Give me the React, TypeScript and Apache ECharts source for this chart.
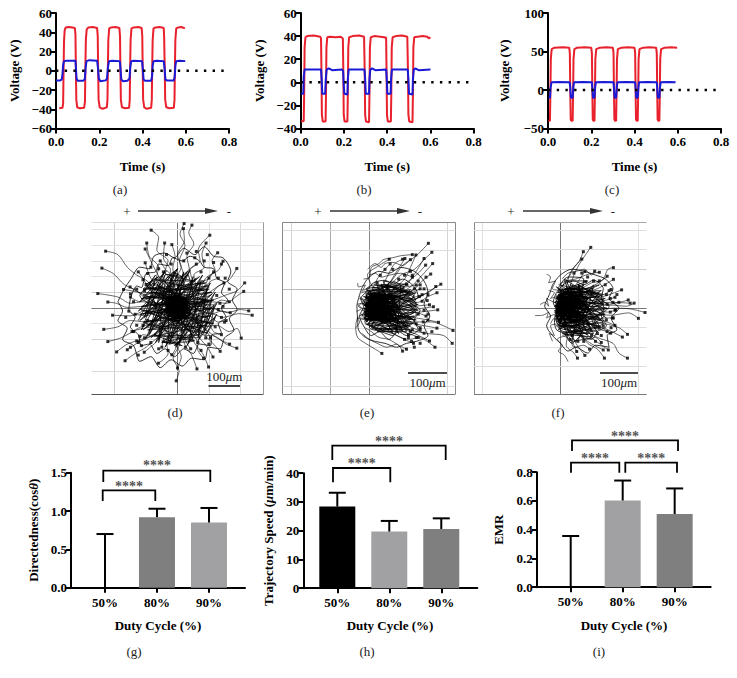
import React, { useEffect, useRef } from "react";
import * as echarts from "echarts";

const FONT = "'Liberation Serif', serif";
const minus = (s: string) => s.replace("-", "\u2212");

// ---------- voltage traces (t in s, V) ----------
const redA = [[0.015,-39],[0.03,-38.5],[0.033,-34],[0.035,0],[0.037,30],[0.04,42],[0.045,45],[0.06,45.5],[0.075,45],[0.087,44.5],[0.09,38],[0.092,0],[0.094,-30],[0.098,-38],[0.11,-39],[0.13,-38.5],[0.134,-32],[0.136,5],[0.138,32],[0.142,43],[0.15,45],[0.17,45.5],[0.19,44.5],[0.193,36],[0.195,0],[0.197,-30],[0.202,-38],[0.215,-39.5],[0.235,-38],[0.238,-30],[0.24,5],[0.242,32],[0.246,44],[0.255,45],[0.275,45.5],[0.293,44.5],[0.296,36],[0.298,0],[0.3,-30],[0.305,-38],[0.32,-39],[0.338,-38.5],[0.341,-30],[0.343,5],[0.345,32],[0.349,44],[0.36,45],[0.38,45.5],[0.396,44.5],[0.399,36],[0.401,0],[0.403,-30],[0.408,-38],[0.42,-39.5],[0.44,-38.5],[0.443,-30],[0.445,5],[0.447,32],[0.451,44],[0.46,45],[0.48,45.5],[0.498,44.5],[0.5,36],[0.503,0],[0.505,-30],[0.51,-38],[0.525,-39],[0.545,-38.5],[0.548,-30],[0.55,5],[0.552,32],[0.556,44],[0.565,45],[0.58,45.5],[0.596,44]];
const blueA = [[0,-10],[0.02,-10],[0.027,-9],[0.03,-3],[0.033,6],[0.037,10],[0.05,10.5],[0.09,10.5],[0.092,4],[0.095,-8],[0.1,-10.5],[0.125,-10.5],[0.133,-9],[0.137,3],[0.141,10],[0.155,11],[0.19,10.5],[0.194,3],[0.198,-8],[0.205,-11],[0.23,-10],[0.236,-8],[0.24,3],[0.245,10],[0.26,10.5],[0.295,10],[0.298,3],[0.302,-9],[0.31,-11],[0.33,-10.5],[0.34,-8],[0.343,3],[0.348,10],[0.36,10.5],[0.398,10],[0.401,3],[0.405,-9],[0.412,-10.5],[0.44,-10.5],[0.444,-6],[0.447,5],[0.451,10],[0.465,10.5],[0.498,10],[0.502,3],[0.506,-9],[0.512,-10],[0.545,-10],[0.549,-6],[0.552,5],[0.556,10],[0.57,10.5],[0.598,10]];
const redB = [[0.002,-34],[0.014,-33.5],[0.016,-10],[0.018,30],[0.022,39],[0.03,40],[0.06,40.5],[0.09,39.5],[0.094,38],[0.096,10],[0.098,-28],[0.102,-34],[0.115,-34],[0.117,-10],[0.119,30],[0.123,39],[0.135,39.5],[0.16,39],[0.185,39.5],[0.195,38],[0.197,10],[0.199,-28],[0.203,-34],[0.216,-34],[0.218,-10],[0.22,30],[0.224,39],[0.24,40],[0.27,40.5],[0.293,39.5],[0.296,10],[0.298,-28],[0.302,-34],[0.316,-34.5],[0.318,-10],[0.32,30],[0.324,39],[0.34,40],[0.37,39.5],[0.385,39],[0.395,38.5],[0.397,10],[0.399,-28],[0.403,-34],[0.417,-34],[0.419,-10],[0.421,30],[0.425,39],[0.44,40],[0.47,40.5],[0.493,39.5],[0.496,10],[0.498,-28],[0.502,-34],[0.517,-34.5],[0.519,-10],[0.521,30],[0.525,39],[0.54,39.5],[0.565,40],[0.585,39.5],[0.592,38],[0.6,39]];
const blueB = [[0.002,-10],[0.012,-10],[0.014,5],[0.018,11],[0.05,11],[0.094,11],[0.097,3],[0.1,-10],[0.113,-10],[0.116,3],[0.12,11],[0.13,12],[0.145,10.5],[0.19,11],[0.196,10],[0.199,-2],[0.202,-10],[0.216,-10.5],[0.218,3],[0.222,11],[0.26,11],[0.295,11],[0.298,3],[0.301,-10],[0.316,-10],[0.318,3],[0.322,11],[0.33,12],[0.345,10.5],[0.395,11],[0.398,3],[0.401,-10],[0.416,-10],[0.418,3],[0.422,11],[0.46,11],[0.495,11],[0.498,3],[0.501,-10],[0.517,-10.5],[0.519,3],[0.523,11],[0.53,12],[0.545,10.5],[0.6,11]];
const redC = [[0.002,-40],[0.009,-40],[0.011,-5],[0.013,40],[0.017,53],[0.03,55],[0.07,55.5],[0.098,55],[0.101,48],[0.103,0],[0.105,-38],[0.108,-40],[0.114,-40],[0.116,-5],[0.118,40],[0.122,53],[0.135,55],[0.17,55.5],[0.2,55],[0.203,48],[0.205,0],[0.207,-38],[0.21,-40],[0.215,-40],[0.217,-5],[0.219,40],[0.223,53],[0.24,55],[0.27,55.5],[0.3,55],[0.303,48],[0.305,0],[0.307,-38],[0.31,-40],[0.315,-40],[0.317,-5],[0.319,40],[0.323,53],[0.34,55],[0.37,55.5],[0.4,55],[0.403,48],[0.405,0],[0.407,-38],[0.41,-40],[0.415,-40],[0.417,-5],[0.419,40],[0.423,53],[0.44,55],[0.47,55.5],[0.5,55],[0.503,48],[0.505,0],[0.507,-38],[0.51,-40],[0.515,-40],[0.517,-5],[0.519,40],[0.523,53],[0.54,55],[0.57,55.5],[0.597,55]];
const blueC = [[0.002,-10],[0.009,-10],[0.012,3],[0.016,10],[0.05,10.5],[0.1,10],[0.103,3],[0.106,-10],[0.114,-10],[0.117,3],[0.12,10],[0.16,10.5],[0.203,10],[0.205,3],[0.208,-10],[0.215,-10],[0.218,3],[0.221,10],[0.26,10.5],[0.303,10],[0.305,3],[0.308,-10],[0.315,-10],[0.318,3],[0.321,10],[0.36,10.5],[0.403,10],[0.405,3],[0.408,-10],[0.415,-10],[0.418,3],[0.421,10],[0.46,10.5],[0.503,10],[0.505,3],[0.508,-10],[0.515,-10],[0.518,3],[0.521,10],[0.56,10.5],[0.59,10]];
const timeTicks = [0, 0.8];

// ---------- trajectories, um, one flat [x,y,x,y...] list per cell ----------
const tracksD = [
[3,6,14,34,2,70,18,110,6,150,24,200,8,235,21,269],[6,2,22,40,18,85,38,120,30,165,52,205,36,240,46,264],[-2,4,8,50,-6,90,12,130,0,170,22,215,19,253],[-6,5,-20,40,-12,80,-40,115,-30,150,-66,185,-60,225,-84,248],[5,5,30,35,48,80,40,120,72,150,66,185,103,232],[4,-2,35,25,60,60,52,105,85,130,78,170,91,207],[-4,6,-10,45,-32,75,-22,120,-45,160,-41,207],[-6,2,-30,25,-45,65,-68,90,-60,130,-90,165,-98,207],[-5,3,-40,20,-70,50,-95,85,-130,105,-160,130,-190,170,-229,181],[1,3,-4,40,6,85,-15,125,-8,165,-18,202],[6,4,40,30,70,55,90,95,120,120,110,150,128,176],[-5,1,-50,12,-95,25,-130,55,-170,75,-205,110,-241,127],[-3,5,-25,55,-50,85,-70,120,-85,150,-103,188],[-3,3,-35,40,-60,70,-85,95,-103,144],[6,2,50,20,95,45,130,70,165,90,189,126],[5,4,45,45,85,70,105,105,130,120,145,149],[6,1,55,15,110,25,150,40,190,55,214,80],[7,0,60,5,105,20,155,15,185,35,211,53],[-6,0,-60,8,-110,20,-150,15,-190,35,-254,46],[-6,-1,-55,-5,-105,5,-160,2,-195,15,-222,19],[-4,2,-45,25,-90,35,-125,50,-172,59],[-3,4,-40,35,-80,50,-115,48,-151,67],[6,-1,60,-10,110,-2,160,-15,200,-5,227,-9],[5,-2,50,-20,100,-15,145,-30,195,-18,238,-23],[-6,-2,-50,-15,-100,-8,-150,-25,-207,-23],[-5,-3,-45,-30,-95,-45,-150,-40,-190,-60,-235,-68],[5,-4,40,-35,85,-60,125,-55,165,-75,190,-65,203,-96],[4,-5,35,-45,80,-85,120,-90,155,-115,189,-128],[5,-3,45,-40,85,-65,125,-95,166,-115],[-5,-4,-40,-40,-85,-60,-130,-70,-180,-95,-222,-107],[-4,-5,-35,-50,-75,-85,-115,-100,-160,-115,-194,-140],[-3,-6,-30,-60,-65,-95,-100,-125,-135,-145,-167,-168],[-4,-4,-45,-55,-85,-90,-125,-110,-160,-133],[-2,-5,-20,-50,-50,-90,-75,-115,-106,-141],[-2,-6,-10,-60,-35,-105,-30,-145,-61,-176],[0,-5,5,-50,-15,-95,-5,-125,-18,-149],[1,-6,-12,-55,8,-110,-14,-160,5,-200,-4,-232],[2,-5,15,-60,-5,-110,12,-155,0,-191],[3,-5,25,-55,20,-105,45,-150,62,-194],[4,-5,35,-60,50,-105,80,-145,99,-188],[5,-4,40,-50,70,-95,95,-125,113,-156],[3,-6,30,-65,60,-100,65,-135,83,-160],[5,-5,50,-50,80,-80,110,-110,136,-138],[-4,4,-30,30,-55,35,-90,60,-110,95,-125,115],[-5,-2,-30,-15,-60,-25,-85,-50,-115,-60,-145,-75],[-5,-5,-25,-35,-55,-60,-80,-90,-110,-85,-125,-110],[6,3,35,15,70,35,105,40,125,65,148,80],[4,5,20,30,50,50,70,85,95,90,115,115],[2,6,5,35,28,60,15,95,40,125,60,140],[-2,6,-8,35,-28,60,-18,100,-40,125,-55,150],[6,-3,35,-15,75,-30,100,-25,130,-45,155,-40],[6,-5,30,-25,60,-45,95,-45,115,-75,140,-85],[-3,-6,-8,-35,-25,-70,-40,-85,-50,-125],[3,-6,10,-35,28,-70,25,-100,42,-130],[-6,3,-30,10,-65,15,-95,30,-120,20,-150,35],[-6,-3,-35,-8,-70,-15,-100,-25,-135,-20],[6,2,35,5,70,12,110,10,140,25,165,20],[6,-2,35,-5,75,-8,105,-20,140,-10,168,-15],[4,4,15,25,40,30,60,55,90,65,105,85,130,95],[-4,4,-15,25,-35,30,-55,55,-80,60,-100,75],[-4,-4,-15,-25,-35,-25,-60,-40,-85,-40,-110,-55],[4,-4,15,-20,40,-25,65,-45,90,-70,105,-95],
];
const webD = [
[-110,60,90,80,-100,30,110,50,-115,5,115,25,-120,-20,110,0,-110,-45,105,-25,-95,-70,95,-55,-75,-90,70,-85,-50,-110,50,-105,-30,100,-60,-110,0,110,-90,-85,30,105,-95,-60,60,95,-110,-20,85,85,-115,30,100,60,-110,60,-70,95,-105,-30,-40,105,-90,-75,-10,115,-60,-100,20,115,-25,-115,50,100,5,-115,75,85,35,-110,95,60,65,-95,110,30,85,-75,115,5,100,-50,-60,70,105,-5,-80,50,100,20,-100,10],
[-125,-40,-40,120,-115,-70,0,125,-100,-95,40,120,-70,-110,80,105,-40,-125,105,80,-5,-125,120,50,30,-120,125,15,65,-105,125,-20,90,-85,110,-55,120,-30,-10,-120,118,10,-50,-110,110,45,-85,-95,95,75,-110,-70,70,100,-120,-40,35,118,-125,-10,0,125,-120,20,-35,118,-105,55,-70,105,-85,85,-100,75,-60,100,-120,40,115,-50,-118,-5,95,-80,-100,-50,55,-105,-75,-85,15,-120,-50,-105,-25,-115,100,70,-110,40,100,25,-95,65,85,55,-70,90,55,85,-40,108,15,100,-15,115,-30,-105,30,110,70,-95,-20,-90,-90,80,40,-75,-70,65,80,-60,-45,90,75,-65,-85,-15,95,10,-90,35,60,-80,85,25,-70,-60,95,-35,-65,75,20,-80,-90,20,90,-30],
[-150,30,-130,70,-115,65,-100,110,-70,115,-60,140,-30,135,-15,160,15,150,40,165,70,150,85,130,115,125,125,95,150,80,140,50,160,25,140,0,155,-30,130,-50,140,-80,110,-85,105,-120,70,-115,50,-145,20,-130,-10,-155,-40,-130,-65,-145,-90,-115,-115,-120,-125,-85,-150,-60,-135,-30,-155,-5,-150,30],
[-190,20,-170,60,-150,90,-120,130,-90,125,-75,165,-40,175,-10,160,20,190,55,170,85,195,115,165,145,160,170,115,160,85,190,60,175,25,190,-5,165,-35,180,-70,150,-95,135,-130,100,-125,85,-165,45,-160,15,-185,-20,-165,-55,-190,-85,-155,-120,-170,-140,-120,-175,-100,-160,-65,-190,-40,-175,-10,-190,20],
[-40,10,35,-15,-30,-25,30,25,-20,35,25,-35,-38,-5,40,5,-25,30,15,-40,-35,20,38,-20,-15,-35,20,35,-40,-10,30,-30,-5,40,8,-42,-30,-30,35,20,-42,15,40,-8,-20,-38,10,38,-35,28,28,-28,-28,10,30,8,-10,-30,15,30,-25,-15,25,-10,-15,22,18,-25,-22,5,20,15,-12,-18,10,18,-18,-6,15,-12,-8,12,10,-14,-12,-2,12,6],
[-30,-10,32,15,-28,22,22,-28,-18,-30,30,12,-32,5,10,32,-12,-34,26,-20,-25,28,34,-6,-10,32,16,-30,-34,-14,28,30,-22,-26,36,-2,-24,18,20,-22,-14,-24,24,14,-26,2,8,26,-8,-26,18,-16,-20,20,26,-4,-6,24,12,-20],
];
const dotsD = [[-95,110],[-110,90],[-85,130],[-60,125],[-20,140],[20,150],[55,160],[85,150],[115,145],[140,140],[152,95],[165,60],[-130,60],[-150,45],[-140,20],[-155,-10],[-130,-55],[-140,-75],[-120,-90],[-130,-105],[-105,-95],[-115,-120],[-85,-110],[-60,-130],[-30,-135],[25,-125],[65,-110],[100,-115],[120,-60],[140,-30],[150,-45],[135,15],[125,40],[100,95],[75,115],[-45,115],[-75,75],[-105,55],[-95,-40],[90,-95],[75,-135],[-150,-125],[-125,-150],[30,175],[-35,170],[60,180],[95,170],[130,-5],[145,5],[-165,-30]];

const tracksE = [
[2,3,25,40,60,75,85,110,120,135,151,167],[4,5,40,45,80,85,115,100,140,125,160,144],[-3,10,10,45,-5,85,25,110,51,126],[3,8,30,50,50,90,65,115,85,126],[5,6,45,55,70,95,91,128],[5,4,50,40,90,75,105,105,119,137],[6,3,55,30,95,60,120,95,140,128],[7,3,60,30,105,55,135,85,162,115],[6,4,55,40,100,70,125,90,144,111],[-2,6,5,40,20,75,35,95,53,114],[7,2,60,25,110,45,135,70,157,88],[7,2,65,15,120,25,155,45,183,62],[8,1,70,10,120,30,150,40,170,56],[8,0,70,5,125,15,150,30,173,40],[8,0,60,-5,115,5,154,9],[8,-1,65,-8,120,-2,164,4],[8,-2,70,-12,125,-10,175,-4],[8,-3,65,-18,120,-25,150,-30,177,-36],[7,-3,60,-25,110,-35,160,-35,190,-45,214,-57],[7,-4,60,-30,115,-40,173,-51],[6,-5,50,-35,100,-55,150,-65,190,-70,212,-90],[6,-5,50,-45,100,-65,140,-80,168,-100],[5,-5,50,-40,105,-60,154,-84],[-10,-10,-30,-25,-35,-50,-30,-75,-10,-90,15,-105,32,-116],[5,-6,40,-50,80,-75,113,-90],[6,-4,45,-35,75,-50,100,-68],[6,-4,60,-25,100,-45,140,-64],[-30,65,-28,55,-10,60,-20,40,0,45,10,25,30,30],[-33,-8,-20,0,-30,10,-10,15,-25,25,0,20,35,5],[-35,-50,-25,-35,-32,-25,-10,-30,-20,-15,5,-20,40,-15],[-15,75,0,80,5,105,25,115,35,125,60,130,80,135,110,138],[-5,100,15,115,30,105,40,115,60,118,85,110,105,125],[0,85,15,90,30,80,50,85,80,90,110,80],[-25,30,-15,20,-28,5,-10,-5,-20,-20,-5,-15,30,-25],[-10,-50,5,-60,25,-75,50,-80,75,-95,95,-105],[-18,-65,0,-80,20,-90,45,-100,70,-92,85,-110],[-15,45,10,60,35,55,60,70,90,55,120,60],[-20,10,15,20,45,15,75,30,110,20,135,35],[-20,-5,20,-10,50,-5,80,-15,115,-10,145,-20],[-22,-25,15,-30,45,-25,75,-40,105,-35,130,-50],[-12,-40,15,-50,45,-55,70,-70,100,-80,125,-75],[-5,30,20,40,45,30,75,45,105,40,130,50],
];
const webE = [
[-12,20,120,40,-15,-10,125,10,-12,-30,115,-20,0,-45,105,-45,20,-60,95,-60,35,70,100,60,15,60,90,50,-5,45,110,25,-15,30,125,-5,-15,0,120,-30,-10,-20,105,-55,5,-50,60,-70,80,60,-8,35,100,-50,-15,12,110,45,-5,-40,120,0,10,55,100,-35,-12,-25,115,30,30,62,75,-65,-10,40,122,15],
[-10,35,60,-60,0,-50,115,35,20,58,110,-40,-12,-15,90,55,-8,50,85,-55,10,-50,120,10,40,62,100,-45,-14,10,115,-10,-5,-42,70,60,-10,25,105,48,15,-55,120,-15,30,60,85,-58,-14,-5,100,40,0,45,60,-65,-12,-35,118,22,45,62,95,-50,-5,38,120,-5,5,-48,50,60,-14,18,110,-28,20,55,72,-62,-12,-18,95,45,-8,32,115,-35,25,-55,105,35,-10,8,80,-50,10,48,120,12],
[-10,40,10,65,40,72,60,62,85,75,115,55,125,30,105,15,130,-5,115,-30,125,-55,95,-70,75,-60,50,-80,25,-60,5,-70,-15,-45,-25,-20,-15,5,-22,25,-10,40],
[-20,50,-5,75,25,95,50,90,80,105,115,95,140,70,150,40,140,10,155,-20,140,-45,150,-70,120,-85,95,-90,70,-100,40,-90,15,-85,-10,-75,-28,-55,-30,-30,-32,5,-28,25,-20,50],
[-10,5,70,-10,-12,-15,75,20,-8,25,70,-25,0,-30,65,30,10,35,55,-35,-12,0,72,5,-10,-20,68,-15,0,20,60,15,5,-25,50,-25,-5,10,62,-5,-8,-10,65,10,-5,15,55,-15,0,-15,50,20,8,-20,45,5,5,15,40,-10,-5,2,58,0,-10,12,60,-22,-8,-28,62,26,2,32,52,-32,-12,8,66,-4,-10,-6,70,14,-4,22,56,-20,2,-22,48,24,-6,-2,52,6],
[-10,30,45,-30,-12,-25,48,30,-8,-35,40,35,0,38,35,-38,-12,10,50,-12,-10,-8,50,12,-5,22,42,-20,-8,-18,44,18,5,30,30,-30,-10,0,48,0,-8,16,38,-14,-6,-12,36,14,0,18,28,-22,-8,4,40,-4,-6,-6,38,8],
];
const dotsE = [[95,62],[110,85],[125,70],[130,60],[115,50],[140,50],[150,35],[128,30],[135,18],[148,20],[140,-5],[125,-15],[150,-15],[138,-35],[120,-40],[130,-55],[110,-55],[100,-75],[90,-80],[120,-75],[108,-85],[115,-100],[130,-90],[105,-60],[60,100],[40,100],[28,85],[20,65],[75,75],[90,85],[105,95],[145,80],[150,-30],[160,-60]];

const tracksF = [
[2,5,20,45,35,85,50,115,78,156],[1,6,15,50,25,90,48,120,59,145],[5,5,45,40,80,55,110,75,122,100,136,104],[-2,6,5,55,25,85,35,105,55,126],[3,5,30,45,50,75,63,94],[6,4,50,35,95,50,136,74],[7,3,60,25,110,30,157,47],[7,1,70,10,125,15,179,13],[8,1,75,5,130,8,170,5,189,13],[7,2,65,15,120,10,174,21],[8,-1,80,-5,140,0,180,-2,217,-11],[8,-2,70,-12,130,-18,175,-12,200,-26],[7,-4,60,-30,115,-40,150,-50,172,-67],[6,-5,55,-35,110,-50,159,-74],[5,-6,50,-45,95,-75,135,-90,150,-115,172,-128],[4,-6,40,-50,70,-90,95,-105,113,-128],[5,-6,45,-50,85,-80,123,-107],[4,-6,35,-50,70,-85,110,-107],[3,-7,25,-55,40,-90,63,-121],[2,-7,20,-60,15,-95,35,-115,44,-128],[2,-7,15,-60,30,-85,42,-111],[7,-3,60,-20,105,-30,140,-44],[7,-4,55,-30,95,-45,129,-64],[-35,87,-25,80,-30,65,-12,70,-20,50,0,45,25,30],[-52,9,-40,15,-30,5,-35,25,-15,15,10,10,40,15],[-65,-19,-45,-18,-30,-10,-35,-25,-10,-15,25,-15],[-20,-85,-28,-65,-15,-70,-25,-45,-8,-40,15,-30,45,-35],[20,-137,10,-120,-5,-110,5,-95,-8,-80,15,-70,40,-60],[-30,45,-15,40,-25,25,-5,30,20,20,55,30],[-25,-40,-15,-25,-5,-35,15,-20,40,-25,70,-40],[-5,60,15,70,40,75,65,85,85,90,100,92],[0,40,25,55,50,50,80,65,105,70,120,82],[-10,20,20,30,50,25,85,35,110,35,130,48],[-10,5,25,5,55,10,90,15,115,20,140,28],[-10,-10,30,-5,60,-10,95,-5,120,-10,142,-5],[-10,-25,25,-25,55,-20,85,-30,115,-25,135,-25],[-8,-40,15,-50,45,-50,75,-60,100,-55,120,-60],[-2,-55,20,-70,45,-65,70,-80,90,-75,105,-88],[5,-70,25,-80,35,-100,60,-95,75,-105],[5,75,20,90,42,95,62,100,80,85,88,95],
];
const webF = [
[-10,30,100,60,-15,5,115,25,-15,-20,115,-15,-10,-45,100,-50,5,-65,80,-75,30,-85,60,75,20,80,-5,50,110,35,-15,15,120,0,-15,-10,110,-35,-5,-50,85,-65,15,70,70,70,-8,40,105,45,-12,-30,95,-60,-10,55,100,-25,-15,-5,60,-80,10,75,112,10,-12,25,40,-85,85,60,-5,-55,110,15,0,60,118,-25],
[-10,35,60,-65,0,-55,110,25,25,60,100,-45,-12,-15,85,50,-5,45,75,-65,15,-60,112,0,45,62,95,-50,-14,8,108,-15,-5,-45,60,60,-10,25,100,40,20,-62,112,-18,30,58,80,-60,-12,-5,95,35,5,50,55,-72,-10,-35,110,18,45,60,90,-52,-5,35,112,-5,10,-55,50,58,-12,15,105,-30,20,52,70,-68,-10,-20,90,42,-5,28,110,-38,30,-62,100,30,-12,5,78,-55,12,48,112,8],
[-10,40,10,62,35,70,60,60,85,72,110,50,105,25,125,5,105,-20,118,-45,95,-60,80,-80,55,-70,30,-90,10,-65,-10,-55,-15,-30,-8,-10,-18,15,-10,40],
[-20,60,0,85,30,100,60,95,90,85,115,75,135,50,125,25,150,0,130,-25,145,-55,120,-70,125,-100,90,-95,70,-115,40,-100,20,-110,0,-90,-20,-70,-35,-45,-25,-20,-40,5,-28,35,-20,60],
[-10,10,65,-20,-10,-20,70,25,-5,35,60,-40,5,-45,50,45,15,50,70,0,-12,0,60,20,-8,-25,55,-30,0,30,50,25,0,-30,45,-15,-5,15,45,5,-5,-10,40,15,0,20,35,-20,5,-15,30,20,0,5,35,-5,-10,-5,62,12,-8,28,58,-28,-2,-38,52,38,8,42,66,-10,-12,-12,64,8,-6,18,50,-22,0,-20,42,22,-4,6,40,-6],
[-10,28,45,-30,-10,-28,48,28,-6,-35,40,35,2,38,35,-38,-12,8,50,-12,-10,-10,50,12,-5,20,42,-20,-6,-18,44,18,5,30,30,-30,-10,0,48,0,-8,15,38,-14,-6,-12,36,14,0,18,28,-22],
];
const dotsF = [[70,80],[85,70],[100,70],[115,60],[125,45],[118,35],[128,25],[135,15],[120,10],[140,-5],[128,-10],[135,-25],[118,-30],[110,-45],[95,-65],[100,-50],[80,-70],[60,-85],[45,-85],[30,-70],[25,-80],[15,-65],[90,-85],[105,-70],[55,90],[35,90],[65,68],[145,35],[150,15],[130,-50]];

// guide lines of the three trajectory plots: [value, colour]
const vLinesD: [number, string][] = [[-200,"#cfcfcf"],[0,"#777"],[100,"#dedede"],[200,"#dadada"],[274,"#999"]];
const hLinesD: [number, string][] = [[274,"#ddd"],[250,"#e3e3e3"],[200,"#e3e3e3"],[150,"#e3e3e3"],[100,"#e3e3e3"],[50,"#ccc"],[0,"#777"],[-50,"#e3e3e3"],[-100,"#d5d5d5"],[-200,"#dadada"],[-274,"#555"]];
const vLinesE: [number, string][] = [[-222,"#888"],[-200,"#d5d5d5"],[-100,"#aaa"],[0,"#888"],[200,"#d5d5d5"],[220,"#888"]];
const hLinesE: [number, string][] = [[221,"#888"],[200,"#ddd"],[150,"#ddd"],[50,"#bbb"],[-50,"#ddd"],[-100,"#ddd"],[-200,"#ddd"],[-221,"#777"]];
const vLinesF: [number, string][] = [[-221,"#888"],[-200,"#e0e0e0"],[0,"#777"],[200,"#e0e0e0"]];
const hLinesF: [number, string][] = [[221,"#aaa"],[200,"#ddd"],[150,"#ddd"],[100,"#ccc"],[0,"#777"],[-50,"#ddd"],[-100,"#ddd"],[-150,"#ddd"],[-221,"#777"]];

// ---------- bars ----------
const dutyLabels = ["50%", "80%", "90%"];
const dutyPositions = [0, 1, 2];
const directedness = [0, 0.92, 0.85];
const directednessErr = [0.7, 1.03, 1.04];
const speed = [28.4, 19.7, 20.6];
const speedErr = [33.2, 23.4, 24.3];
const emr = [0, 0.603, 0.509];
const emrErr = [0.356, 0.742, 0.687];
const DARK = "#7f7f7f", LIGHT = "#a1a1a4";

const grids: any[] = [];
const xAxes: any[] = [];
const yAxes: any[] = [];
const series: any[] = [];

const axisLine = { lineStyle: { color: "#000", width: 2 } };
const tickStyle = { length: 5, lineStyle: { color: "#000", width: 2 } };
const labelStyle = { color: "#000", fontFamily: FONT, fontWeight: "bold", fontSize: 13 };
const nameStyle = { color: "#000", fontFamily: FONT, fontWeight: "bold", fontSize: 13 };

function voltagePanel(left: number, yMin: number, yMax: number, yStep: number, red: number[][], blue: number[][], yGap: number) {
  const i = grids.length;
  grids.push({ left, top: 13, width: 173, height: 115.5 });
  xAxes.push({
    gridIndex: i, type: "value", min: timeTicks[0], max: timeTicks[1], interval: 0.2,
    axisLine: { ...axisLine, onZero: false }, axisTick: tickStyle, splitLine: { show: false },
    axisLabel: { ...labelStyle, margin: 6, formatter: (v: number) => v.toFixed(1) },
    name: "Time (s)", nameLocation: "middle", nameGap: 31, nameTextStyle: nameStyle, nameMoveOverlap: false,
  });
  yAxes.push({
    gridIndex: i, type: "value", min: yMin, max: yMax, interval: yStep,
    axisLine: { ...axisLine, onZero: false }, axisTick: tickStyle, splitLine: { show: false },
    axisLabel: { ...labelStyle, margin: 4, formatter: (v: number) => minus(String(v)) },
    name: "Voltage (V)", nameLocation: "middle", nameGap: yGap, nameTextStyle: nameStyle, nameMoveOverlap: false,
  });
  const base = { type: "line", xAxisIndex: i, yAxisIndex: i, symbol: "none", silent: true, clip: false };
  series.push({ ...base, data: red, z: 2, lineStyle: { color: "#e8212c", width: 2 } });
  series.push({ ...base, data: blue, z: 3, lineStyle: { color: "#1a1ad6", width: 2 } });
  series.push({ ...base, data: [[timeTicks[0], 0], [timeTicks[1], 0]], z: 4, lineStyle: { color: "#000", width: 2.4, type: [2.4, 6.3] } });
}

const toLine = (tracks: number[][]) => {
  const out: any[] = [];
  tracks.forEach((t) => {
    for (let k = 0; k < t.length; k += 2) out.push([t[k], t[k + 1]]);
    out.push(["-", "-"]);
  });
  return out;
};

function tracksPanel(left: number, top: number, w: number, h: number, xr: number[], yr: number[], tracks: number[][], web: number[][], dots: number[][], v: [number, string][], hl: [number, string][]) {
  const i = grids.length;
  grids.push({ left, top, width: w, height: h });
  xAxes.push({ gridIndex: i, type: "value", min: xr[0], max: xr[1], show: false, splitLine: { show: false } });
  yAxes.push({ gridIndex: i, type: "value", min: yr[0], max: yr[1], show: false, splitLine: { show: false } });
  const base = { xAxisIndex: i, yAxisIndex: i, silent: true, type: "line", symbol: "none", smooth: 0.3, connectNulls: false, z: 3 };
  const markLine = {
    silent: true, symbol: "none", z: 1, animation: false, label: { show: false }, emphasis: { disabled: true },
    data: [
      ...v.map(([val, color]) => ({ xAxis: val, lineStyle: { color, width: 1, type: "solid" } })),
      ...hl.map(([val, color]) => ({ yAxis: val, lineStyle: { color, width: 1, type: "solid" } })),
    ],
  };
  series.push({ ...base, data: toLine(tracks), lineStyle: { color: "#000", width: 0.6 }, markLine });
  series.push({ ...base, data: toLine(web.slice(0, -2)), lineStyle: { color: "#000", width: 0.8 } });
  series.push({ ...base, data: toLine(web.slice(-2)), lineStyle: { color: "#000", width: 1.7 } });
  series.push({
    xAxisIndex: i, yAxisIndex: i, silent: true, type: "scatter", symbol: "rect", symbolSize: 3, z: 4,
    data: [...tracks.map((t) => [t[t.length - 2], t[t.length - 1]]), ...dots], itemStyle: { color: "#000" },
  });
}

function barPanel(axisX: number, top: number, yMax: number, yStep: number, vals: number[], errs: number[], colors: string[], name: string, yGap: number, digits: number, rich: any) {
  const i = grids.length;
  const w = 174;
  grids.push({ left: axisX, top, width: w, height: 115 });
  xAxes.push({
    gridIndex: i, type: "value", min: -0.654, max: 2.693,
    axisLine: { ...axisLine, onZero: false }, splitLine: { show: false },
    axisTick: { ...tickStyle, customValues: dutyPositions },
    axisLabel: { ...labelStyle, margin: 8, customValues: dutyPositions, formatter: (v: number) => dutyLabels[v] ?? "" },
  });
  yAxes.push({
    gridIndex: i, type: "value", min: 0, max: yMax, interval: yStep,
    axisLine: { ...axisLine, onZero: false }, axisTick: tickStyle, splitLine: { show: false },
    axisLabel: { ...labelStyle, margin: 4, formatter: (v: number) => v.toFixed(digits) },
    name, nameLocation: "middle", nameGap: yGap, nameTextStyle: { ...nameStyle, rich }, nameMoveOverlap: false,
  });
  series.push({
    type: "bar", xAxisIndex: i, yAxisIndex: i, barWidth: 36, silent: true, z: 2,
    data: vals.map((v, k) => ({ value: [dutyPositions[k], v], itemStyle: { color: colors[k] } })),
  });
  series.push({
    type: "custom", xAxisIndex: i, yAxisIndex: i, silent: true, clip: false, z: 3,
    encode: { x: 0, y: 2 },
    data: vals.map((v, k) => [dutyPositions[k], v, errs[k]]),
    renderItem: (_: any, api: any) => {
      const lo = api.coord([api.value(0), api.value(1)]);
      const hi = api.coord([api.value(0), api.value(2)]);
      const st = { stroke: "#000", lineWidth: 2 };
      return {
        type: "group",
        children: [
          { type: "line", shape: { x1: lo[0], y1: lo[1], x2: hi[0], y2: hi[1] }, style: st },
          { type: "line", shape: { x1: hi[0] - 8.5, y1: hi[1], x2: hi[0] + 8.5, y2: hi[1] }, style: st },
        ],
      };
    },
  });
}

voltagePanel(56, -60, 60, 20, redA, blueA, 35.5);
voltagePanel(300.7, -40, 60, 20, redB, blueB, 35);
voltagePanel(548, -50, 100, 50, redC, blueC, 37.5);
tracksPanel(91.5, 222, 172, 172, [-274, 274], [-274, 274], tracksD, webD, dotsD, vLinesD, hLinesD);
tracksPanel(282.7, 222.3, 172.6, 172, [-222, 220], [-221, 221], tracksE, webE, dotsE, vLinesE, hLinesE);
tracksPanel(474, 222, 172.6, 172.4, [-221, 221], [-221, 221], tracksF, webF, dotsF, vLinesF, hLinesF);
const italic = { fontStyle: "italic", fontWeight: "bold", fontFamily: FONT, fontSize: 13, color: "#000" };
barPanel(71, 472.7, 1.5, 0.5, directedness, directednessErr, ["#000", DARK, LIGHT], "Directedness(cos{i|\u03b8})", 31.5, 1, { i: italic });
barPanel(303.3, 473.2, 40, 10, speed, speedErr, ["#000", LIGHT, DARK], "Trajectory Speed ({i|\u03bc}m/min)", 28.5, 0, { i: italic });
barPanel(536.7, 472.2, 0.8, 0.2, emr, emrErr, ["#000", LIGHT, DARK], "EMR", 31.5, 1, { i: italic });

// ---------- annotations ----------
const graphic: any[] = [];
const caption = (text: string, x: number, y: number) =>
  graphic.push({ type: "text", x, y, style: { text, fill: "#222", font: `13px ${FONT}`, textAlign: "center", textVerticalAlign: "middle" } });
const captions: [string, number, number][] = [["(a)",120,189],["(b)",364,189],["(c)",612,189],["(d)",175,412],["(e)",367,412],["(f)",558,412],["(g)",134,651],["(h)",367,651],["(i)",599,651]];
captions.forEach((c) => caption(c[0], c[1], c[2]));

const dutyNameX = [158, 390, 624];
dutyNameX.forEach((x) =>
  graphic.push({ type: "text", x, y: 625, style: { text: "Duty Cycle (%)", fill: "#000", font: `bold 13px ${FONT}`, textAlign: "center", textVerticalAlign: "middle" } })
);

const arrow = (plus: number, a: number, b: number, m: number) => {
  caption("+", plus, 211);
  caption("-", m, 211);
  graphic.push({ type: "line", shape: { x1: a, y1: 211, x2: b - 10, y2: 211 }, style: { stroke: "#333", lineWidth: 1.6 } });
  graphic.push({ type: "polygon", shape: { points: [[b - 13, 208], [b, 211], [b - 13, 214]] }, style: { fill: "#333" } });
};
arrow(127, 138, 218, 229);
arrow(318, 330, 410, 420);
arrow(511, 523, 603, 613);

const scale = (a: number, b: number, yLine: number, yText: number) => {
  graphic.push({ type: "line", shape: { x1: a, y1: yLine, x2: b, y2: yLine }, style: { stroke: "#111", lineWidth: 1.6 }, z: 20 });
  graphic.push({
    type: "text", x: (a + b) / 2, y: yText, z: 20,
    style: { text: "100{i|\u03bc}m", fill: "#222", font: `13px ${FONT}`, textAlign: "center", textVerticalAlign: "middle", rich: { i: { fontStyle: "italic", font: `italic 13px ${FONT}`, fill: "#222" } } },
  });
};
scale(208.5, 240, 386, 376);
scale(408, 447, 373, 382);
scale(600, 638, 373, 382);

const bracket = (x1: number, x2: number, top: number, yl: number, yr: number) =>
  graphic.push({ type: "polyline", shape: { points: [[x1, yl], [x1, top], [x2, top], [x2, yr]] }, style: { stroke: "#000", lineWidth: 1.8, fill: "none" } });
const stars = (x: number, y: number) =>
  graphic.push({ type: "text", x, y, style: { text: "****", fill: "#555", font: `bold 14px ${FONT}`, textAlign: "center", textVerticalAlign: "middle" } });

bracket(103.3, 210.3, 470.7, 482, 482);
bracket(102.7, 155.3, 490.3, 501, 501);
stars(157, 465);
stars(129, 486);
bracket(332.3, 445.7, 445.7, 460, 460);
bracket(333, 390.3, 468, 482.3, 482.3);
stars(389, 441);
stars(361.7, 463);
bracket(572, 678, 440.3, 451, 451);
bracket(571, 619.3, 462.7, 472.7, 472.7);
bracket(625.3, 677, 462.7, 472.7, 472.7);
stars(625, 436);
stars(595, 458);
stars(651.3, 458);

export default function App() {
  const ref = useRef<HTMLDivElement>(null);
  useEffect(() => {
    const chart = echarts.init(ref.current!, undefined, { renderer: "svg" });
    chart.setOption({ animation: false, backgroundColor: "#fff", grid: grids, xAxis: xAxes, yAxis: yAxes, series, graphic });
    return () => chart.dispose();
  }, []);
  return <div ref={ref} style={{ position: "absolute", left: 0, top: 0, width: 737, height: 678 }} />;
}
